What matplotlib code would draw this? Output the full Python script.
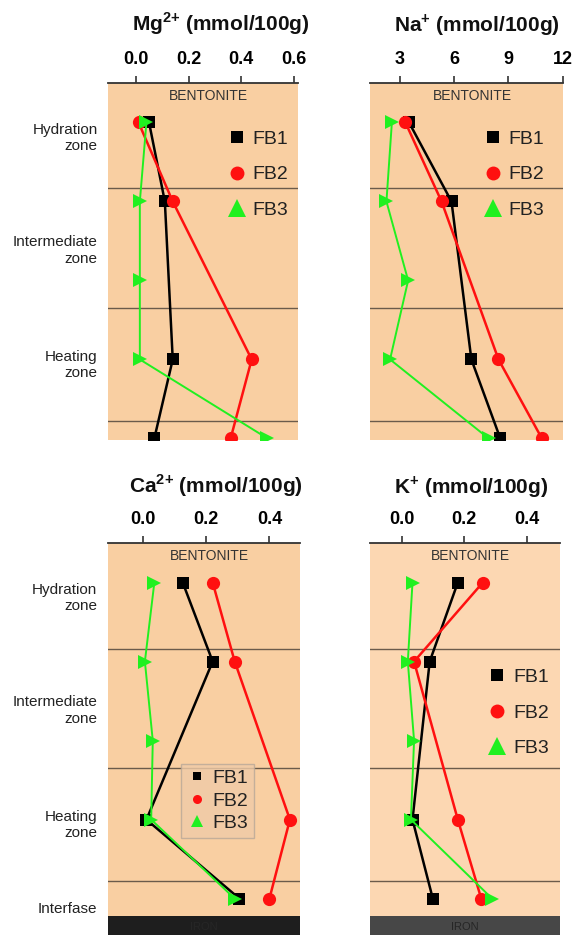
import numpy as np
import matplotlib
matplotlib.use("Agg")
import matplotlib.pyplot as plt
from matplotlib.lines import Line2D
from matplotlib.transforms import blended_transform_factory

plt.rcParams['font.family'] = ['Liberation Sans', 'DejaVu Sans']
plt.rcParams['mathtext.fontset'] = 'custom'
plt.rcParams['mathtext.rm'] = 'Liberation Sans'
plt.rcParams['mathtext.bf'] = 'Liberation Sans:bold'

nan = np.nan
# sampling positions: hydration, intermediate (x2), heating, interface
depth = [0, 1, 2, 3, 4]
zone_bounds = [0.835, 2.35, 3.78]
zone_names = ["Hydration\nzone", "Intermediate\nzone", "Heating\nzone"]
zone_label_pos = [0.2, 1.62, 3.07]
series_names = ["FB1", "FB2", "FB3"]

mg_fb1 = [0.05, 0.11, nan, 0.14, 0.07]
mg_fb2 = [0.01, 0.14, nan, 0.44, 0.36]
mg_fb3 = [0.04, 0.015, 0.015, 0.015, 0.50]

na_fb1 = [3.5, 5.85, nan, 6.95, 8.55]
na_fb2 = [3.3, 5.3, nan, 8.45, 10.85]
na_fb3 = [2.55, 2.25, 3.45, 2.45, 7.9]

ca_fb1 = [0.125, 0.22, nan, 0.01, 0.305]
ca_fb2 = [0.22, 0.29, nan, 0.465, 0.40]
ca_fb3 = [0.035, 0.005, 0.03, 0.025, 0.29]

k_fb1 = [0.18, 0.09, nan, 0.035, 0.10]
k_fb2 = [0.26, 0.04, nan, 0.18, 0.255]
k_fb3 = [0.035, 0.02, 0.04, 0.03, 0.29]

mg_ticks = [0.0, 0.2, 0.4, 0.6]
na_ticks = [3, 6, 9, 12]
ca_ticks = [0.0, 0.2, 0.4]
k_ticks = [0.0, 0.2, 0.4]

colors = ['#000000', '#FF1010', '#20F020']
markers = ['s', 'o', '>']
legend_markers = ['s', 'o', '^']
msizes = [8.5, 9.5, 10]
lwidths = [1.8, 1.8, 1.4]

W, H = 579, 935
fig = plt.figure(figsize=(W / 100, H / 100), dpi=100)


def px_axes(x0, y0, x1, y1):
    return fig.add_axes([x0 / W, 1 - y1 / H, (x1 - x0) / W, (y1 - y0) / H])


def draw_panel(ax, series, xlim, ticks, ticklabels, ylim, bg, iron=None):
    ax.set_facecolor(bg)
    ax.set_xlim(*xlim)
    ax.set_ylim(*ylim)
    for s in ['left', 'right', 'bottom']:
        ax.spines[s].set_visible(False)
    ax.spines['top'].set_linewidth(1.3)
    ax.spines['top'].set_color('#333333')
    ax.xaxis.tick_top()
    ax.set_xticks(ticks)
    ax.set_xticklabels(ticklabels, fontweight='bold', fontsize=13)
    ax.tick_params(axis='x', direction='out', length=5, width=1.2,
                   color='#333333', pad=6)
    ax.set_yticks([])
    for yb in zone_bounds:
        ax.axhline(yb, color='#6b5b4b', lw=1.0, zorder=1)
    if iron is not None:
        ax.axhspan(4.22, ylim[0] + 1, color=iron, lw=0, zorder=1)
        ax.text(0.5, 4.36, "IRON", transform=blended_transform_factory(ax.transAxes, ax.transData),
                ha='center', va='center', fontsize=8, color='#262626', zorder=2)
    ax.text(0.53, -0.34, "BENTONITE", transform=blended_transform_factory(ax.transAxes, ax.transData),
            ha='center', va='center', fontsize=10, color='#333333')
    for vals, c, m, ms, lw in zip(series, colors, markers, msizes, lwidths):
        v = np.array(vals, dtype=float)
        d = np.array(depth, dtype=float)
        ok = ~np.isnan(v)
        ax.plot(v[ok], d[ok], color=c, lw=lw, marker=m, ms=ms,
                markeredgewidth=0, zorder=3, clip_on=True)


def zone_labels(ax, with_interfase=False):
    tr = blended_transform_factory(ax.transAxes, ax.transData)
    for name, y in zip(zone_names, zone_label_pos):
        ax.text(-0.055, y, name, transform=tr, ha='right', va='center',
                multialignment='right', fontsize=11, color='#222222', linespacing=1.2)
    if with_interfase:
        ax.text(-0.055, 4.13, "Interfase", transform=tr, ha='right', va='center',
                fontsize=11, color='#222222')


def handles(ms_scale=1.0):
    hs = []
    for c, m, ms in zip(colors, legend_markers, [9, 10, 13]):
        hs.append(Line2D([], [], color=c, marker=m, ls='none', ms=ms * ms_scale,
                         markeredgewidth=0))
    return hs


def big_legend(ax, anchor):
    ax.legend(handles(), series_names, loc='upper left', bbox_to_anchor=anchor,
              frameon=False, fontsize=14, labelspacing=0.93, handlelength=1.0,
              handletextpad=0.3, labelcolor='#222222')


bg_top = '#F9CFA2'
bg_br = '#FCD7B2'

# Mg
ax1 = px_axes(108, 83, 298, 440)
draw_panel(ax1, [mg_fb1, mg_fb2, mg_fb3], (-0.106, 0.616), mg_ticks,
           ['0.0', '0.2', '0.4', '0.6'], (4.02, -0.5), bg_top)
zone_labels(ax1)
big_legend(ax1, (0.535, 0.917))

# Na
ax2 = px_axes(370, 83, 563, 440)
draw_panel(ax2, [na_fb1, na_fb2, na_fb3], (1.34, 12.02), na_ticks,
           ['3', '6', '9', '12'], (4.02, -0.5), bg_top)
big_legend(ax2, (0.497, 0.917))

# Ca
ax3 = px_axes(108, 543, 300, 935)
draw_panel(ax3, [ca_fb1, ca_fb2, ca_fb3], (-0.112, 0.497), ca_ticks,
           ['0.0', '0.2', '0.4'], (4.46, -0.5), bg_top, iron='#1E1E1E')
zone_labels(ax3, with_interfase=True)
leg = ax3.legend(handles(0.65), series_names, loc='upper left', bbox_to_anchor=(0.33, 0.462),
                 frameon=True, fontsize=14, labelspacing=0.25, handlelength=1.0,
                 handletextpad=0.3, borderpad=0.3, fancybox=False, labelcolor='#222222')
leg.get_frame().set_facecolor('#EFCBA8')
leg.get_frame().set_edgecolor('#B8A898')
leg.get_frame().set_alpha(0.8)

# K
ax4 = px_axes(370, 543, 560, 935)
draw_panel(ax4, [k_fb1, k_fb2, k_fb3], (-0.101, 0.507), k_ticks,
           ['0.0', '0.2', '0.4'], (4.46, -0.5), bg_br, iron='#474747')
big_legend(ax4, (0.527, 0.725))

# panel titles
title_kw = dict(ha='center', va='baseline', fontsize=15, fontweight='bold', color='#111111')
fig.text(221 / W, 1 - 31 / H, r'Mg$^{\mathbf{2{+}}}$ (mmol/100g)', **title_kw)
fig.text(477 / W, 1 - 31 / H, r'Na$^{\mathbf{{+}}}$ (mmol/100g)', **title_kw)
fig.text(216 / W, 1 - 493 / H, r'Ca$^{\mathbf{2{+}}}$ (mmol/100g)', **title_kw)
fig.text(471 / W, 1 - 493 / H, r'K$^{\mathbf{{+}}}$ (mmol/100g)', **title_kw)

fig.savefig('out.png', dpi=100)
